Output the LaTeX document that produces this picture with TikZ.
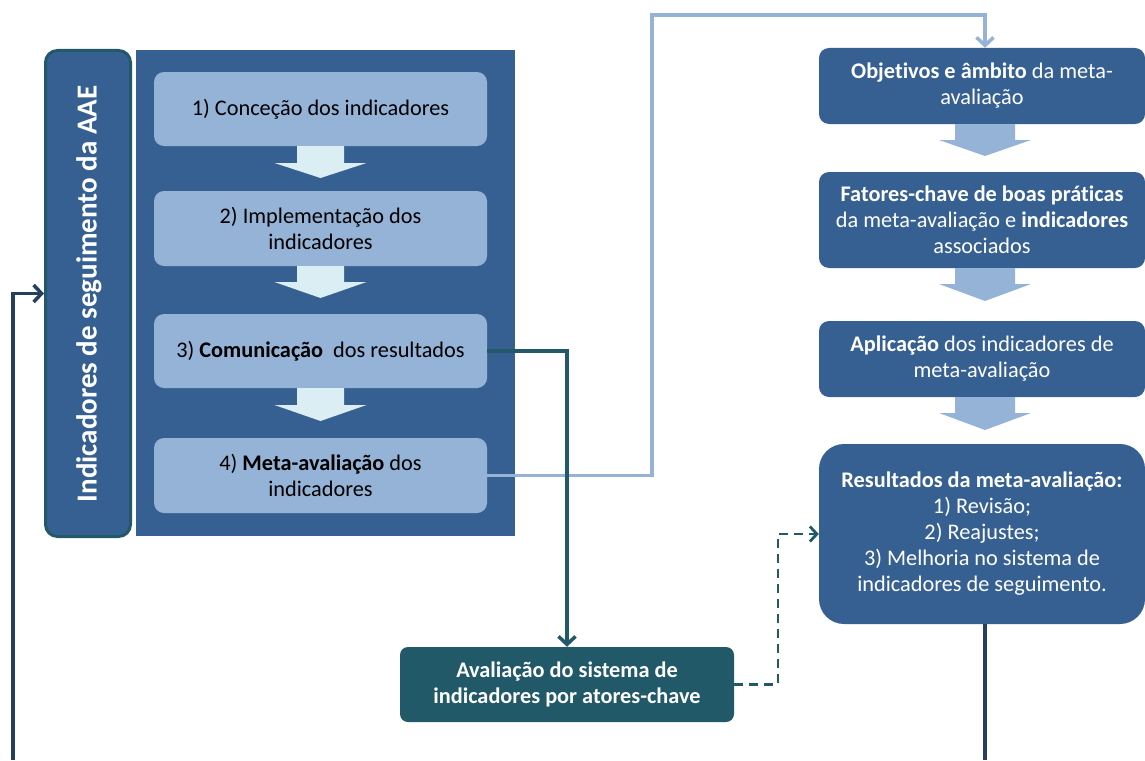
\documentclass[tikz,border=0pt]{standalone}
\usepackage{fontspec}
\setmainfont[Ligatures=NoCommon]{Carlito}
\usetikzlibrary{arrows.meta}
\definecolor{dblue}{HTML}{376092}
\definecolor{lblue}{HTML}{95B3D7}
\definecolor{pale}{HTML}{DBEEF4}
\definecolor{cteal}{HTML}{215968}
\definecolor{navy}{HTML}{243F60}
\newcommand\blockarr[7]{%
  \fill[#7] (#1-#2,#4) -- (#1+#2,#4) -- (#1+#2,#5) -- (#1+#3,#5) -- (#1,#6) -- (#1-#3,#5) -- (#1-#2,#5) -- cycle;}
\begin{document}
\begin{tikzpicture}[x=1pt,y=-1pt,
  txt/.style={font=\fontsize{22.3}{26}\selectfont, align=center, inner sep=0pt},
  inbox/.style={txt, fill=lblue, rounded corners=10pt, minimum width=333pt},
  rbox/.style={txt, fill=dblue, text=white, rounded corners=10pt, minimum width=326pt},
  conn/.style={line width=3.5pt},
  tip/.style={-{Straight Barb[length=8pt,width=17pt,line width=3.5pt]}}
]
\useasboundingbox (0,0) rectangle (1145,760);

% left panel
\node[fill=dblue, minimum width=379pt, minimum height=486pt, inner sep=0pt] (P) at (325.5,293) {};
\node[fill=dblue, draw=cteal, line width=3pt, rounded corners=12pt, minimum width=85pt, minimum height=486pt, inner sep=0pt] (V) at (88,293.5) {};
\node[rotate=90, text=white, font=\fontsize{29}{33}\selectfont\bfseries, inner sep=0pt] (Vt) at (89,294) {Indicadores de seguimento da AAE};

\node[inbox, minimum height=74pt] (c1) at (320.5,109) {1) Conceção dos indicadores};
\node[inbox, minimum height=75pt] (c2) at (320.5,228.5) {2) Implementação dos\\indicadores};
\node[inbox, minimum height=74pt] (c3) at (320.5,351) {3) \textbf{Comunicação}\ \ dos resultados};
\node[inbox, minimum height=75pt] (c4) at (320.5,475.5) {4) \textbf{Meta-avaliação} dos\\indicadores};

\blockarr{320.5}{23.5}{46}{146}{163}{178}{pale}
\blockarr{320.5}{23.5}{46}{266}{282}{298}{pale}
\blockarr{320.5}{23.5}{46}{388}{405}{421}{pale}

% right column
\node[rbox, minimum height=76pt] (A) at (982,86) {\textbf{Objetivos e âmbito} da meta-\\avaliação};
\node[rbox, minimum height=96pt] (B) at (982,220) {\textbf{Fatores-chave de boas práticas}\\da meta-avaliação e \textbf{indicadores}\\associados};
\node[rbox, minimum height=76pt] (C) at (982,359) {\textbf{Aplicação} dos indicadores de\\meta-avaliação};
\node[rbox, rounded corners=25pt, minimum height=180pt] (D) at (982,534) {\textbf{Resultados da meta-avaliação:}\\1) Revisão;\\2) Reajustes;\\3) Melhoria no sistema de\\indicadores de seguimento.};

\blockarr{985}{30}{46}{124}{140}{156}{lblue}
\blockarr{985}{30}{46}{268}{284}{301}{lblue}
\blockarr{985}{30}{46}{397}{413}{430}{lblue}

\node[txt, fill=cteal, text=white, rounded corners=8pt, minimum width=334pt, minimum height=75pt] (E) at (567,684.5) {\textbf{Avaliação do sistema de}\\\textbf{indicadores por atores-chave}};

% connectors
\coordinate (u1) at (652,15);
\coordinate (u2) at (985,15);
\draw[conn, lblue, tip] (c4.east) -| (u1) -- (u2) -- (u2 |- A.north);
\draw[conn, cteal, tip] (c3.east) -| (E.north);
\coordinate (dj) at (778,600);
\draw[line width=2.8pt, cteal, dashed, dash pattern=on 9pt off 6pt, -{Straight Barb[length=7pt,width=15pt,line width=2.8pt]}] (E.east) -| (dj) |- (D.west);
\coordinate (bot) at (985,760);
\draw[conn, navy] (D.south -| bot) -- (bot);
\coordinate (lb) at (13,760);
\draw[conn, navy, tip] (lb) |- (V.west);
\end{tikzpicture}
\end{document}
